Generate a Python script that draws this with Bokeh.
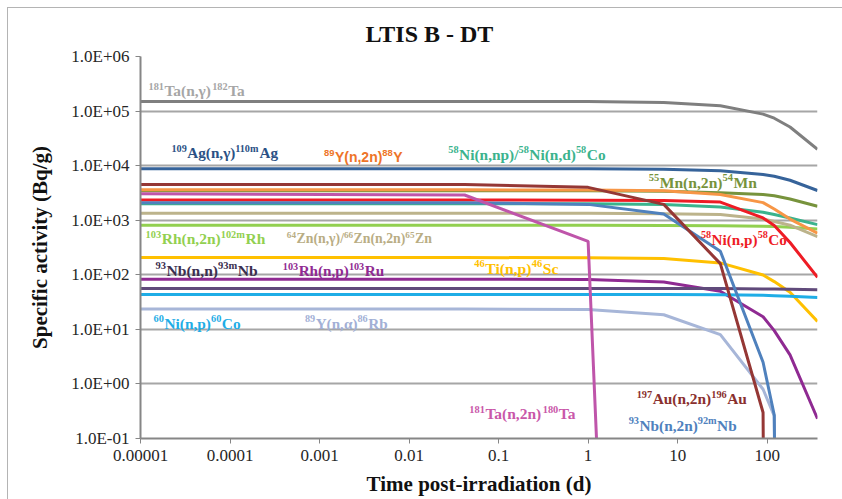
import re
from bokeh.plotting import figure
from bokeh.models import Range1d, FixedTicker, CustomJSTickFormatter, Title, ColumnDataSource
from bokeh.core.properties import value
from bokeh.embed import file_html
from bokeh.resources import INLINE

# Sampling times after end of irradiation (days)
times = [1e-5, 0.0417, 1, 7, 30, 90, 120, 180, 365]

# Specific activity (Bq/g) of each product at the sampling times
ta182 = [1.50e5, 1.50e5, 1.49e5, 1.44e5, 1.25e5, 8.8e4, 7.4e4, 5.1e4, 2.0e4]
ag110m = [8.8e3, 8.8e3, 8.8e3, 8.6e3, 8.1e3, 6.9e3, 6.4e3, 5.4e3, 3.5e3]
rh102m = [805, 805, 805, 800, 795, 775, 765, 745, 690]
zn65 = [1.34e3, 1.34e3, 1.34e3, 1.32e3, 1.27e3, 1.05e3, 950, 810, 500]
co58_np = [2.0e3, 2.0e3, 2.0e3, 1.95e3, 1.75e3, 1.4e3, 1.27e3, 1.1e3, 830]
co58_p = [2.35e3, 2.35e3, 2.33e3, 2.3e3, 2.15e3, 1.1e3, 800, 390, 90]
mn54 = [3.45e3, 3.45e3, 3.45e3, 3.4e3, 3.2e3, 2.95e3, 2.8e3, 2.45e3, 1.8e3]
y88 = [3.6e3, 3.6e3, 3.58e3, 3.45e3, 2.95e3, 2.1e3, 1.6e3, 1.05e3, 580]
sc46 = [207, 207, 205, 198, 165, 99, 75, 48, 14]
ru103 = [83, 83, 82, 74, 50, 17, 9.5, 3.4, 0.23]
nb93m = [56, 56, 56, 56, 56, 55, 55, 54.5, 53]
co60 = [43.5, 43.5, 43.5, 43.5, 43, 42, 41.5, 40.5, 38.5]
rb86 = [23.5, 23.5, 23.2, 18.5, 8, 0.8, 0.26, 1e-30, 1e-30]
nb92m = [2.1e3, 2.1e3, 1.95e3, 1.3e3, 270, 2.5, 0.27, 1e-30, 1e-30]
au196 = [4.5e3, 4.5e3, 4.0e3, 1.95e3, 160, 0.3, 1e-30, 1e-30, 1e-30]
ta180 = [3.05e3, 2.9e3, 410, 1e-30, 1e-30, 1e-30, 1e-30, 1e-30, 1e-30]

# Drawing order: later series sit on top
series = [
    (rh102m, "#92d050"),
    (zn65, "#bcb38b"),
    (co58_np, "#3bb38d"),
    (co58_p, "#ee1c25"),
    (mn54, "#77933c"),
    (y88, "#f79646"),
    (ag110m, "#36639a"),
    (ta182, "#7f7f7f"),
    (sc46, "#ffc000"),
    (ru103, "#8f2a92"),
    (nb93m, "#604a7b"),
    (co60, "#1fade6"),
    (rb86, "#a7b6d8"),
    (nb92m, "#4f81bd"),
    (au196, "#953735"),
    (ta180, "#bf55aa"),
]

# Reaction labels ({...} = mass number / isomer, set as superscript),
# anchor time (d), anchor activity (Bq/g), colour, font size (px)
label_text = [
    "{181}Ta(n,γ){182}Ta",
    "{109}Ag(n,γ){110m}Ag",
    "{58}Ni(n,np)/{58}Ni(n,d){58}Co",
    "{55}Mn(n,2n){54}Mn",
    "{103}Rh(n,2n){102m}Rh",
    "{64}Zn(n,γ)/{66}Zn(n,2n){65}Zn",
    "{58}Ni(n,p){58}Co",
    "{93}Nb(n,n){93m}Nb",
    "{103}Rh(n,p){103}Ru",
    "{46}Ti(n,p){46}Sc",
    "{60}Ni(n,p){60}Co",
    "{89}Y(n,α){86}Rb",
    "{197}Au(n,2n){196}Au",
    "{93}Nb(n,2n){92m}Nb",
    "{181}Ta(n,2n){180}Ta",
]
label_t = [1.23e-5, 2.22e-5, 0.0274, 4.75, 1.14e-5, 4.31e-4, 18.2, 1.47e-5,
           3.89e-4, 0.0536, 1.4e-5, 6.87e-4, 3.49, 2.84, 0.0471]
label_a = [2.37e5, 1.71e4, 1.6e4, 4.88e3, 454, 454, 445, 119,
           119, 133, 12.9, 12.9, 0.534, 0.174, 0.283]
label_color = ["#a6a6a6", "#2b5185", "#3bb38d", "#77933c", "#92d050", "#b9ad84",
               "#ee1c25", "#3b2f4f", "#8f2a92", "#ffc000", "#1fade6", "#a2b0d6",
               "#8a302e", "#4f81bd", "#c957a9"]
label_size = [15.4, 15.2, 15.4, 15.6, 15.5, 13.8, 15.2, 15.6,
              15.2, 15.6, 15.4, 15.2, 15.4, 15.3, 15.5]

y88_label = "{89}Y(n,2n){88}Y"
y88_label_t = 1.12e-3
y88_label_a = 1.44e4

x_ticks = [1e-5, 1e-4, 1e-3, 1e-2, 1e-1, 1, 10, 100]
y_ticks = [1e-1, 1, 1e1, 1e2, 1e3, 1e4, 1e5, 1e6]

SERIF = "'Liberation Serif', 'Times New Roman', 'DejaVu Serif', serif"
SANS = "'Liberation Sans', Arial, 'DejaVu Sans', sans-serif"

# Advance widths (1/1000 em) used to lay out label pieces side by side
SERIF_BOLD_W = {"(": 333, ")": 333, ",": 250, "/": 278, "γ": 460, "α": 560,
                "A": 722, "C": 722, "M": 944, "N": 722, "R": 722, "S": 556,
                "T": 667, "Y": 722, "Z": 667, "a": 500, "b": 556, "d": 556,
                "g": 500, "h": 556, "i": 278, "m": 833, "n": 556, "o": 500,
                "p": 556, "u": 556, "c": 444, "r": 444}
SANS_BOLD_W = {"(": 333, ")": 333, ",": 278, "Y": 667, "n": 611, "m": 889}


def text_width(s, size, table, digit):
    return sum(table.get(ch, digit) for ch in s) * size / 1000.0


def layout_label(markup, t, a, color, size, table, digit, pieces):
    sup_size = round(size * 0.67, 1)
    rise = size * 0.3
    dx = 0.0
    for sup, normal in re.findall(r"\{([^}]*)\}|([^{]+)", markup):
        if sup:
            seg, fs, dy = sup, sup_size, -rise
        else:
            seg, fs, dy = normal, size, 0.0
        pieces["x"].append(t)
        pieces["y"].append(a)
        pieces["text"].append(seg)
        pieces["dx"].append(dx)
        pieces["dy"].append(dy)
        pieces["size"].append("%gpx" % fs)
        pieces["color"].append(color)
        dx += text_width(seg, fs, table, digit) + (0.5 if sup else 0.0)


serif_pieces = {k: [] for k in ("x", "y", "text", "dx", "dy", "size", "color")}
for markup, t, a, c, s in zip(label_text, label_t, label_a, label_color, label_size):
    layout_label(markup, t, a, c, s, SERIF_BOLD_W, 500, serif_pieces)

sans_pieces = {k: [] for k in ("x", "y", "text", "dx", "dy", "size", "color")}
layout_label(y88_label, y88_label_t, y88_label_a, "#ee7428", 14, SANS_BOLD_W, 556,
             sans_pieces)

p = figure(width=835, height=492, x_axis_type="log", y_axis_type="log",
           x_range=Range1d(1e-5, 365), y_range=Range1d(0.1, 1e6),
           output_backend="svg", toolbar_location=None,
           min_border_left=132, min_border_right=26,
           min_border_top=48, min_border_bottom=62)
p.margin = (7, 0, 0, 7)
p.styles = {"border-left": "1px solid #b4b4b4", "border-top": "1px solid #b4b4b4"}
p.outline_line_color = None
p.background_fill_color = "white"
p.border_fill_color = "white"

p.title.text = "LTIS B - DT"
p.title.align = "left"
p.title.offset = 225
p.title.text_font = SERIF
p.title.text_font_size = "24px"
p.title.text_font_style = "bold"
p.title.text_color = "#111111"
p.title.standoff = 19

p.xaxis.ticker = FixedTicker(ticks=x_ticks, minor_ticks=[])
p.yaxis.ticker = FixedTicker(ticks=y_ticks, minor_ticks=[])
p.xaxis.formatter = CustomJSTickFormatter(code="""
    const e = Math.round(Math.log10(tick));
    return e < 0 ? tick.toFixed(-e) : tick.toFixed(0);
""")
p.yaxis.formatter = CustomJSTickFormatter(code="""
    const e = Math.round(Math.log10(tick));
    const s = e < 0 ? "-" : "+";
    return "1.0E" + s + String(Math.abs(e)).padStart(2, "0");
""")

for ax in (p.xaxis, p.yaxis):
    ax.axis_line_color = "#868686"
    ax.axis_line_width = 2
    ax.major_tick_line_color = "#868686"
    ax.major_tick_line_width = 1
    ax.major_tick_out = 5
    ax.major_tick_in = 0
    ax.minor_tick_line_color = None
    ax.major_label_text_font = SERIF
    ax.major_label_text_font_size = "17px"
    ax.major_label_text_color = "#262626"
    ax.major_label_standoff = 6

p.xaxis.axis_label = "Time post-irradiation (d)"
p.xaxis.axis_label_text_font = SERIF
p.xaxis.axis_label_text_font_size = "21px"
p.xaxis.axis_label_text_font_style = "bold"
p.xaxis.axis_label_text_color = "#111111"
p.xaxis.axis_label_standoff = 8

# Vertical axis title, in its own panel left of the tick labels
ylab = Title(text="Specific activity (Bq/g)", align="center", offset=29,
             vertical_align="top",
             text_font=SERIF, text_font_size="21px", text_font_style="bold",
             text_color="#111111", standoff=30)
p.add_layout(ylab, "left")

p.xgrid.grid_line_color = None
p.ygrid.grid_line_color = "#a6a6a6"
p.ygrid.grid_line_width = 2

for vals, color in series:
    p.line(times, vals, line_color=color, line_width=3)

p.text(x="x", y="y", text="text", x_offset="dx", y_offset="dy",
       text_font_size="size", text_color="color",
       source=ColumnDataSource(serif_pieces),
       text_font=value(SERIF), text_font_style="bold",
       text_align="left", text_baseline="middle")
p.text(x="x", y="y", text="text", x_offset="dx", y_offset="dy",
       text_font_size="size", text_color="color",
       source=ColumnDataSource(sans_pieces),
       text_font=value(SANS), text_font_style="bold",
       text_align="left", text_baseline="middle")

open("out.html", "w", encoding="utf-8").write(file_html(p, INLINE))
